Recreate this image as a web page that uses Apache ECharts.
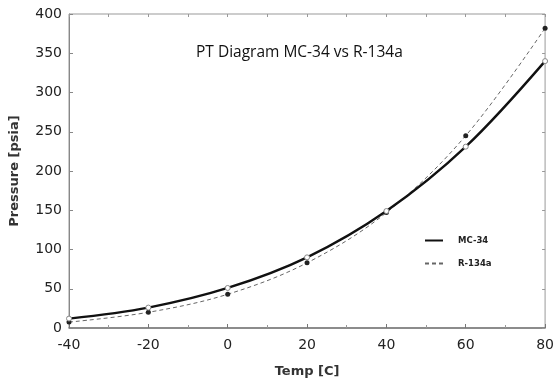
<!DOCTYPE html>
<html>
<head>
<meta charset="utf-8">
<script src="https://cdn.jsdelivr.net/npm/echarts@6/dist/echarts.min.js"></script>
<style>
  html, body { margin: 0; padding: 0; background: #fff; }
  #main { width: 557px; height: 383px; }
</style>
</head>
<body>
<div id="main"></div>
<script>
  // temperatures in C, pressures in psia
  var temps = [-40, -20, 0, 20, 40, 60, 80];
  var mc34 = [12, 26, 51, 90, 149, 231, 340];
  var r134a = [7.5, 20, 43, 83, 147, 245, 382];
  var seriesNames = ['MC-34', 'R-134a'];

  function pairs(vals) {
    var out = [];
    for (var i = 0; i < temps.length; i++) out.push([temps[i], vals[i]]);
    return out;
  }

  var chart = echarts.init(document.getElementById('main'));

  var tickFont = { fontFamily: 'DejaVu Sans', fontSize: 14, color: '#222' };
  var nameFont = { fontFamily: 'DejaVu Sans', fontSize: 13, fontWeight: 'bold', color: '#333' };

  var option = {
    backgroundColor: '#fff',
    animation: false,
    title: {
      text: 'PT Diagram MC-34 vs R-134a',
      left: 191,
      top: 40,
      textStyle: { fontFamily: 'Open Sans', fontSize: 15.5, fontWeight: 'normal', color: '#111' }
    },
    legend: {
      data: seriesNames,
      orient: 'vertical',
      left: 419,
      top: 231,
      itemWidth: 18,
      itemHeight: 8,
      itemGap: 14,
      itemStyle: { opacity: 0 },
      textStyle: { fontFamily: 'DejaVu Sans', fontSize: 8.5, fontWeight: 'bold', color: '#222', padding: [0, 0, 0, 10] }
    },
    grid: {
      left: 68, right: 9, top: 14, bottom: 51,
      show: true, borderColor: '#999', borderWidth: 1
    },
    xAxis: [{
      type: 'value', min: -40, max: 80, interval: 20,
      name: 'Temp [C]', nameLocation: 'middle', nameGap: 37, nameTextStyle: nameFont,
      axisLine: { onZero: false, lineStyle: { color: '#777', width: 1.5 } },
      axisTick: { inside: true, length: 4, lineStyle: { color: '#777' } },
      minorTick: { show: true, splitNumber: 2, length: 3, lineStyle: { color: '#999' } },
      axisLabel: Object.assign({ margin: 10 }, tickFont),
      splitLine: { show: false }
    }, {
      type: 'value', min: -40, max: 80, interval: 10, position: 'top',
      axisLine: { show: false, onZero: false },
      axisTick: { inside: true, length: 3, lineStyle: { color: '#999' } },
      axisLabel: { show: false },
      splitLine: { show: false }
    }],
    yAxis: [{
      type: 'value', min: 0, max: 400, interval: 50,
      name: 'Pressure [psia]', nameLocation: 'middle', nameGap: 48, nameTextStyle: nameFont,
      axisLine: { show: true, onZero: false, lineStyle: { color: '#888', width: 1 } },
      axisTick: { show: true, inside: true, length: 4, lineStyle: { color: '#888' } },
      axisLabel: Object.assign({ margin: 7 }, tickFont),
      splitLine: { show: false }
    }, {
      type: 'value', min: 0, max: 400, interval: 50, position: 'right',
      axisLine: { show: false, onZero: false },
      axisTick: { show: true, inside: true, length: 3, lineStyle: { color: '#999' } },
      axisLabel: { show: false },
      splitLine: { show: false }
    }],
    series: [{
      name: 'MC-34',
      type: 'line',
      smooth: 0.35,
      data: pairs(mc34),
      symbol: 'circle',
      symbolSize: 5,
      itemStyle: { color: '#fff', borderColor: '#888', borderWidth: 1 },
      lineStyle: { color: '#111', width: 2.4 },
      z: 3
    }, {
      name: 'R-134a',
      type: 'line',
      smooth: 0.35,
      data: pairs(r134a),
      symbol: 'circle',
      symbolSize: 5,
      itemStyle: { color: '#222', borderColor: '#222', borderWidth: 0 },
      lineStyle: { color: '#666', width: 1, type: [4, 3] },
      z: 2
    }]
  };

  chart.setOption(option);
</script>
</body>
</html>
